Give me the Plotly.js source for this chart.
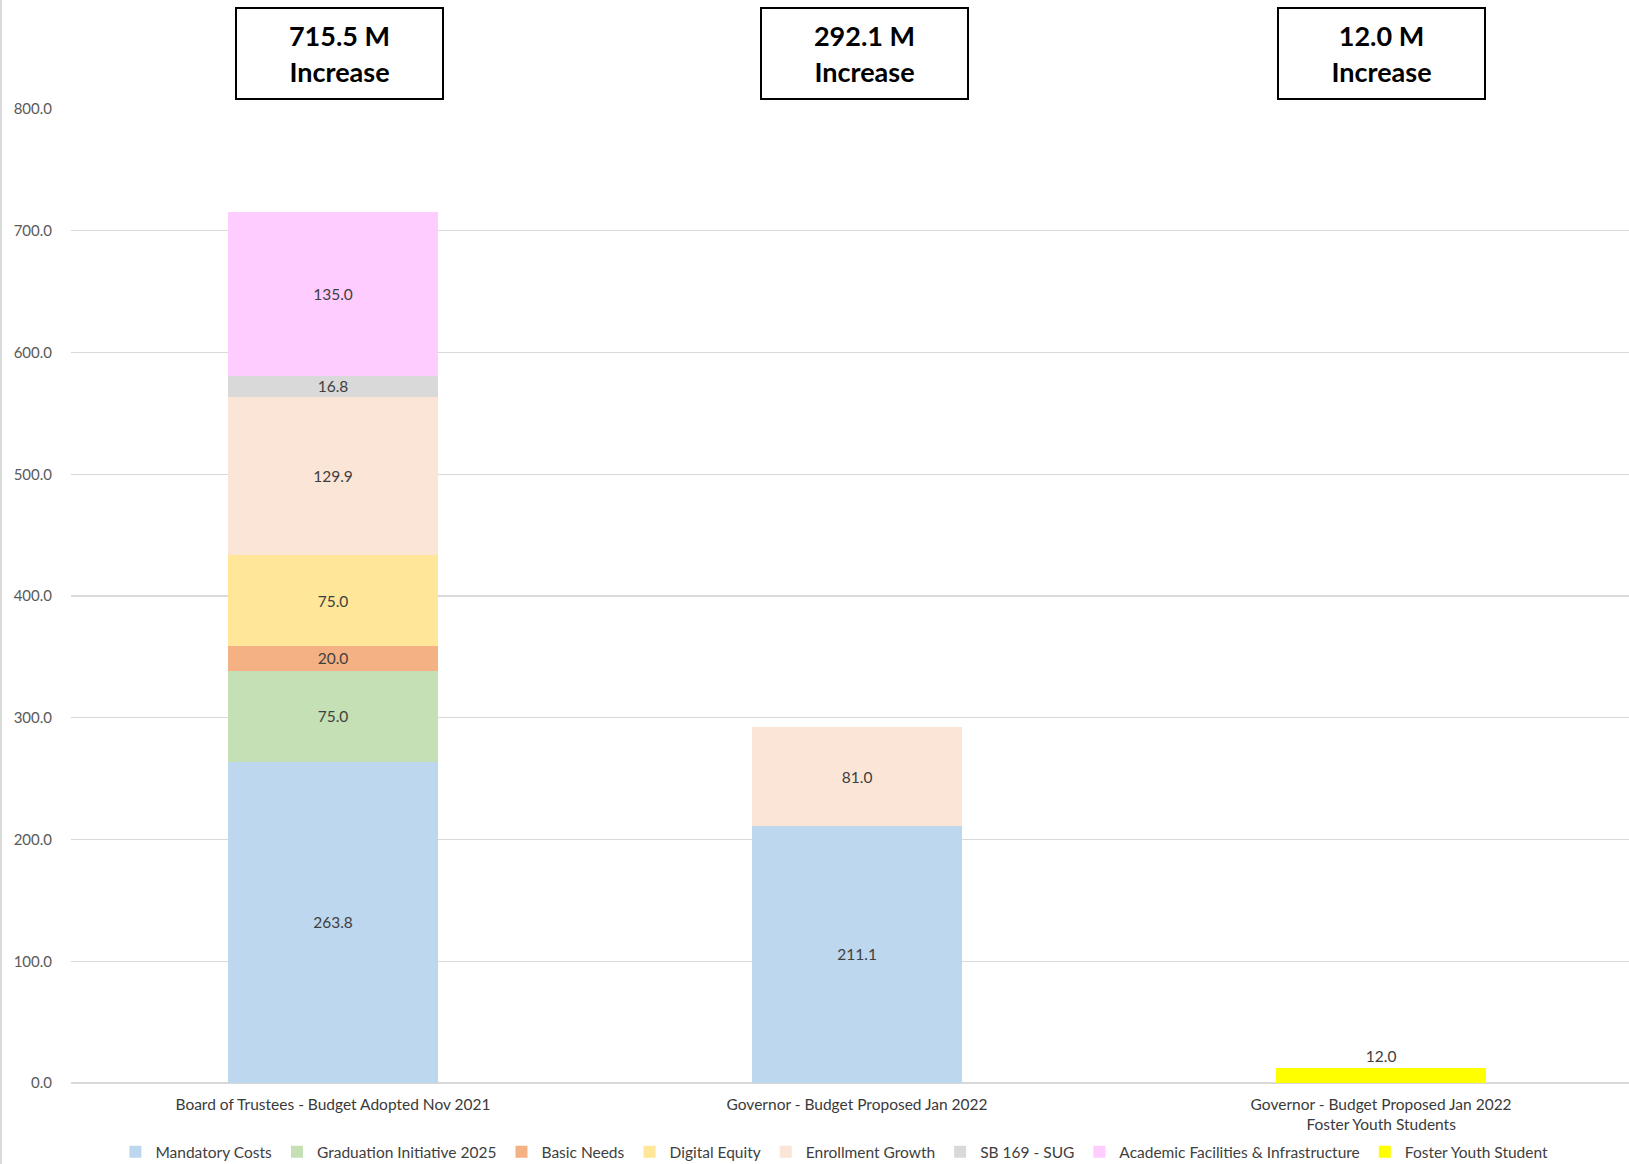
<!DOCTYPE html>
<html>
<head>
<meta charset="utf-8">
<script src="https://cdn.plot.ly/plotly-3.0.1.min.js"></script>
<style>
  html, body { margin: 0; padding: 0; background: #fff; }
  #wrap { position: relative; width: 1629px; height: 1164px; overflow: hidden; }
  #edge { position: absolute; left: 0; top: 0; width: 2px; height: 1164px; background: #d9d9d9; z-index: 5; }
  #chart { width: 1629px; height: 1164px; }
</style>
</head>
<body>
<div id="wrap"><div id="edge"></div><div id="chart"></div></div>
<script>
// ---- data ----
const categories = [
  "Board of Trustees - Budget Adopted Nov 2021",
  "Governor - Budget Proposed Jan 2022",
  "Governor - Budget Proposed Jan 2022<br>Foster Youth Students"
];
const seriesNames = [
  "Mandatory Costs", "Graduation Initiative 2025", "Basic Needs", "Digital Equity",
  "Enrollment Growth", "SB 169 - SUG", "Academic Facilities & Infrastructure", "Foster Youth Student"
];
const mandatoryCosts = [263.8, 211.1, null];
const graduationInitiative = [75.0, null, null];
const basicNeeds = [20.0, null, null];
const digitalEquity = [75.0, null, null];
const enrollmentGrowth = [129.9, 81.0, null];
const sb169 = [16.8, null, null];
const academicFacilities = [135.0, null, null];
const fosterYouth = [null, null, 12.0];
const yTicks = [0, 100, 200, 300, 400, 500, 600, 700, 800];

// ---- styles ----
const colors = ["#BDD7EE", "#C5E0B4", "#F4B183", "#FFE699", "#FBE5D6", "#D9D9D9", "#FFCCFF", "#FFFF00"];
const seriesValues = [mandatoryCosts, graduationInitiative, basicNeeds, digitalEquity,
  enrollmentGrowth, sb169, academicFacilities, fosterYouth];
const FONT = "Lato, 'Open Sans', sans-serif";

const traces = seriesValues.map((vals, i) => ({
  type: "bar",
  name: seriesNames[i],
  x: categories,
  y: vals,
  marker: { color: colors[i], line: { width: 0 } },
  texttemplate: "%{y:.1f}",
  textposition: i === seriesValues.length - 1 ? "outside" : "inside",
  insidetextanchor: "middle",
  constraintext: "none",
  textfont: { family: FONT, size: 15.5, color: "#404040" },
  outsidetextfont: { family: FONT, size: 15.5, color: "#404040" },
  cliponaxis: false,
  hoverinfo: "skip"
}));

const totals = categories.map((c, ci) =>
  seriesValues.reduce((s, arr) => s + (arr[ci] || 0), 0));
const xShifts = [6, 7, 0];

const annotations = categories.map((c, ci) => ({
  xref: "x", yref: "paper",
  x: c, y: 1, yanchor: "middle", xanchor: "center",
  yshift: 56, xshift: xShifts[ci],
  text: "<b>" + totals[ci].toFixed(1) + " M<br>Increase</b>",
  showarrow: false,
  font: { family: FONT, size: 27, color: "#000" },
  bordercolor: "#000", borderwidth: 2, borderpad: 0,
  bgcolor: "#fff",
  width: 205, height: 89
}));

const layout = {
  width: 1629, height: 1164,
  margin: { l: 71, r: 0, t: 109, b: 81, autoexpand: false },
  paper_bgcolor: "#fff", plot_bgcolor: "#fff",
  barmode: "stack",
  bargap: 0.6,
  font: { family: FONT, color: "#595959" },
  showlegend: true,
  legend: {
    orientation: "h", x: 0.49, xanchor: "center", y: -0.071, yanchor: "middle",
    font: { family: FONT, size: 15.5, color: "#404040" },
    traceorder: "normal",
    itemwidth: 30,
    itemclick: false
  },
  xaxis: {
    type: "category",
    range: [-0.5, 2.473],
    automargin: false,
    showgrid: false, zeroline: false, showline: false,
    ticks: "",
    ticklabelstandoff: 10,
    tickfont: { family: FONT, size: 15.5, color: "#3a3a3a" },
    fixedrange: true
  },
  yaxis: {
    range: [0, 800],
    automargin: false,
    tickvals: yTicks,
    tickformat: ".1f",
    showgrid: true, gridcolor: "#D9D9D9", gridwidth: 1.3,
    zeroline: true, zerolinecolor: "#D9D9D9", zerolinewidth: 1.5,
    showline: false, ticks: "",
    ticklabelstandoff: 18,
    tickfont: { family: FONT, size: 15, color: "#595959" },
    fixedrange: true
  },
  annotations: annotations
};

Plotly.newPlot("chart", traces, layout, { displayModeBar: false, staticPlot: true });
</script>
</body>
</html>
